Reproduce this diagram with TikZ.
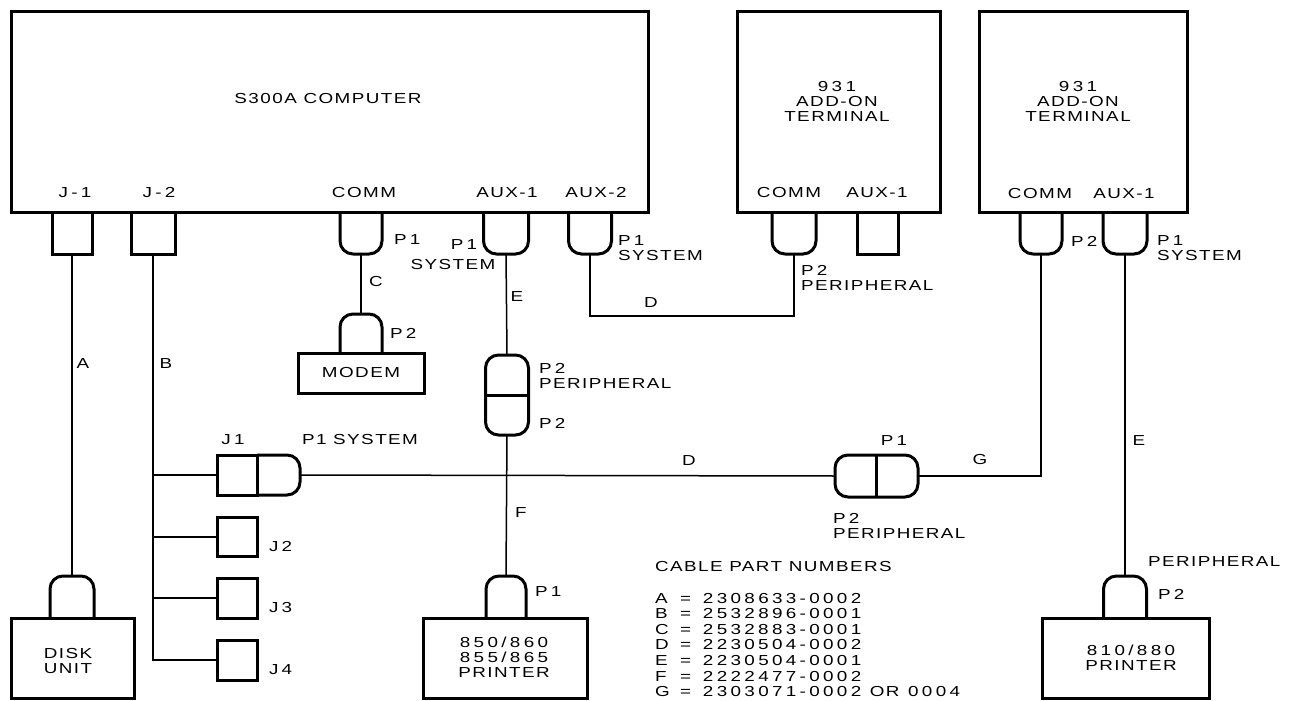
\documentclass[tikz,border=0pt]{standalone}
\usepackage{fontspec}
\newfontfamily\lblfont[FakeStretch=1.3,LetterSpace=10]{Liberation Sans}
\newfontfamily\numfont[FakeStretch=1.3,LetterSpace=23]{Liberation Sans}
\newcommand{\cablerow}[2]{\makebox[25pt][l]{\lblfont #1}\makebox[23pt][l]{\lblfont =}{\numfont #2}}
\tikzset{
	box/.style={draw,line width=3pt,rectangle,outer sep=0pt,inner sep=0pt},
	lbl/.style={font=\lblfont\fontsize{14.5}{15}\selectfont,inner sep=0pt,outer sep=0pt,align=center},
	lbll/.style={lbl,anchor=west,align=left},
	num/.style={font=\numfont\fontsize{14.5}{15}\selectfont},
	cable/.style={line width=1.5pt},
	plugbox/.style={rectangle,outer sep=0pt,inner sep=0pt,minimum width=42pt,minimum height=42pt},
	plugdn/.style={plugbox,append after command={\pgfextra{\draw[line width=3pt,rounded corners=13pt] (\tikzlastnode.north west) -- (\tikzlastnode.south west) -- (\tikzlastnode.south east) -- (\tikzlastnode.north east);}}},
	plugup/.style={plugbox,append after command={\pgfextra{\draw[line width=3pt,rounded corners=13pt] (\tikzlastnode.south west) -- (\tikzlastnode.north west) -- (\tikzlastnode.north east) -- (\tikzlastnode.south east);}}},
	plugrt/.style={plugbox,append after command={\pgfextra{\draw[line width=3pt,rounded corners=13pt] (\tikzlastnode.north west) -- (\tikzlastnode.north east) -- (\tikzlastnode.south east) -- (\tikzlastnode.south west);}}},
	twin/.style={box,rounded corners=13pt}
}
\begin{document}
\begin{tikzpicture}[x=1pt,y=-1pt]
	\useasboundingbox (0,0) rectangle (1293,701);
	\node[box,minimum width=637pt,minimum height=200pt] (computer) at (329.5,112) {};
	\node[box,minimum width=203pt,minimum height=200pt] (termone) at (838.5,112) {};
	\node[box,minimum width=208pt,minimum height=200pt] (termtwo) at (1083,112) {};
	\node[box,minimum width=126pt,minimum height=40pt] (modem) at (361,373) {};
	\node[box,minimum width=123pt,minimum height=80pt] (disk) at (72.5,658) {};
	\node[box,minimum width=164pt,minimum height=80pt] (prtone) at (505,658) {};
	\node[box,minimum width=167pt,minimum height=80pt] (prttwo) at (1125.5,658) {};
	\node[box,minimum width=40pt,minimum height=42pt] (jone) at (72,233) {};
	\node[box,minimum width=44pt,minimum height=42pt] (jtwo) at (153,233) {};
	\node[plugdn] (comm) at (361,233) {};
	\node[plugdn,minimum width=45pt] (auxone) at (506,233) {};
	\node[plugdn,minimum width=43pt] (auxtwo) at (590,233) {};
	\node[plugdn,minimum width=44pt] (tonecomm) at (794,233) {};
	\node[box,minimum width=41pt,minimum height=42pt] (toneaux) at (877.5,233) {};
	\node[plugdn] (ttwocomm) at (1041,233) {};
	\node[plugdn,minimum width=44pt] (ttwoaux) at (1125,233) {};
	\node[plugup,minimum height=39pt] (modemp) at (361,333.5) {};
	\node[plugup,minimum width=44pt] (diskp) at (72,597) {};
	\node[plugup,minimum width=40pt] (prtonep) at (506,597) {};
	\node[plugup,minimum width=43pt] (prttwop) at (1125,597) {};
	\node[twin,minimum width=43pt,minimum height=80pt] (midplug) at (507,395) {};
	\draw[line width=3pt] (midplug.west) -- (midplug.east);
	\node[box,minimum width=40pt,minimum height=40pt] (jonebox) at (237,475) {};
	\node[plugrt,minimum width=43pt,minimum height=40pt] (jplug) at (278.5,475) {};
	\node[box,minimum width=40pt,minimum height=39pt] (jtwobox) at (237,537) {};
	\node[box,minimum width=40pt,minimum height=40pt] (jthreebox) at (237,598) {};
	\node[box,minimum width=40pt,minimum height=40pt] (jfourbox) at (237,660) {};
	\node[twin,minimum width=83pt,minimum height=42pt] (rtplug) at (876.5,476) {};
	\draw[line width=3pt] (rtplug.north) -- (rtplug.south);

	\draw[cable] (jone.south) -- (diskp.north);
	\draw[cable] (jtwo.south) |- (jfourbox.west);
	\coordinate (bone) at (jtwo.south |- jonebox.west);
	\coordinate (btwo) at (jtwo.south |- jtwobox.west);
	\coordinate (bthree) at (jtwo.south |- jthreebox.west);
	\draw[cable] (bone) -- (jonebox.west);
	\draw[cable] (btwo) -- (jtwobox.west);
	\draw[cable] (bthree) -- (jthreebox.west);
	\draw[cable] (comm.south) -- (modemp.north);
	\draw[cable] (auxone.south) -- (midplug.north);
	\draw[cable] (midplug.south) -- (prtonep.north);
	\coordinate (dlow) at (auxtwo.south |- 0,316);
	\draw[cable] (auxtwo.south) -- (dlow) -| (tonecomm.south);
	\draw[cable] (jplug.east) -- (rtplug.west);
	\draw[cable] (rtplug.east) -| (ttwocomm.south);
	\draw[cable] (ttwoaux.south) -- (prttwop.north);

	\node[lbl] (lcomputer) at (328,99) {S300A COMPUTER};
	\node[lbl] (ltermone) at (837,101) {{\numfont 931}\\ADD-ON\\TERMINAL};
	\node[lbl] (ltermtwo) at (1078,101) {{\numfont 931}\\ADD-ON\\TERMINAL};
	\node[lbl,num] (ljone) at (75,193) {J-1};
	\node[lbl,num] (ljtwo) at (159,193) {J-2};
	\node[lbl] (lcomm) at (364,193) {COMM};
	\node[lbl] (lauxone) at (507,193) {AUX-1};
	\node[lbl] (lauxtwo) at (596,193) {AUX-2};
	\node[lbl] (ltonecomm) at (789,193) {COMM};
	\node[lbl] (ltoneaux) at (877,193) {AUX-1};
	\node[lbl] (lttwocomm) at (1040,194) {COMM};
	\node[lbl] (lttwoaux) at (1124,194) {AUX-1};
	\node[lbl] (lmodem) at (361,373) {MODEM};
	\node[lbl] (ldisk) at (68,661) {DISK\\UNIT};
	\node[lbl] (lprtone) at (504,657) {{\numfont 850/860}\\{\numfont 855/865}\\PRINTER};
	\node[lbl] (lprttwo) at (1131,658) {{\numfont 810/880}\\PRINTER};
	\node[lbll,num] (pcomm) at (394,240) {P1};
	\node[lbll,num] (pmodem) at (390,333) {P2};
	\node[lbl,num] (psysa) at (464,245) {P1};
	\node[lbl] (psysb) at (453,265) {SYSTEM};
	\node[lbll] (pauxtwo) at (618,248) {{\numfont P1}\\SYSTEM};
	\node[lbll] (ptone) at (801,278) {{\numfont P2}\\PERIPHERAL};
	\node[lbll,num] (pttwo) at (1071,241) {P2};
	\node[lbll] (pttwoaux) at (1157,248) {{\numfont P1}\\SYSTEM};
	\node[lbll] (pmida) at (539,376) {{\numfont P2}\\PERIPHERAL};
	\node[lbll,num] (pmidb) at (539,423) {P2};
	\node[lbl,num] (pjone) at (233,440) {J1};
	\node[lbll] (pjplug) at (302,440) {P1 SYSTEM};
	\node[lbll,num] (pjtwo) at (269,547) {J2};
	\node[lbll,num] (pjthree) at (269,608) {J3};
	\node[lbll,num] (pjfour) at (269,670) {J4};
	\node[lbll,num] (pprtone) at (535,592) {P1};
	\node[lbl,num] (prtp) at (894,441) {P1};
	\node[lbll] (prtq) at (833,526) {{\numfont P2}\\PERIPHERAL};
	\node[lbll] (pprttwoa) at (1148,562) {PERIPHERAL};
	\node[lbll,num] (pprttwob) at (1158,594) {P2};
	\node[lbl] (ca) at (83,364) {A};
	\node[lbl] (cb) at (166,364) {B};
	\node[lbl] (cc) at (376,282) {C};
	\node[lbl] (ce) at (517,297) {E};
	\node[lbl] (cd) at (651,303) {D};
	\node[lbl] (cdd) at (689,461) {D};
	\node[lbl] (cf) at (521,513) {F};
	\node[lbl] (cg) at (980,460) {G};
	\node[lbl] (cee) at (1139,441) {E};
	\node[lbll] (partshead) at (655,567) {CABLE PART NUMBERS};
	\node[lbll,font=\lblfont\fontsize{14.5}{15.6}\selectfont] (parts) at (655,645) {\cablerow{A}{2308633-0002}\\\cablerow{B}{2532896-0001}\\\cablerow{C}{2532883-0001}\\\cablerow{D}{2230504-0002}\\\cablerow{E}{2230504-0001}\\\cablerow{F}{2222477-0002}\\\cablerow{G}{2303071-0002 {\lblfont OR} 0004}};
\end{tikzpicture}
\end{document}
